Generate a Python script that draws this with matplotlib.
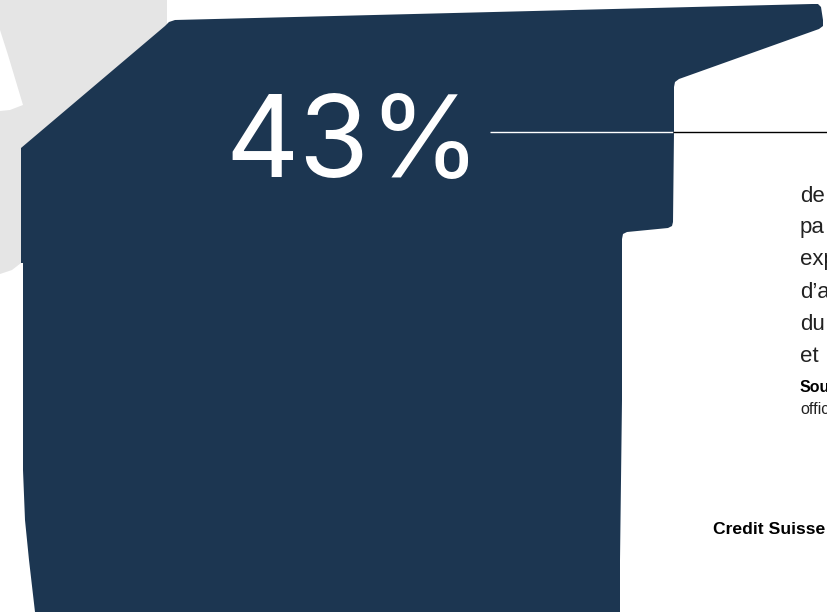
import matplotlib
matplotlib.use("Agg")
import matplotlib.pyplot as plt
from matplotlib.patches import Polygon

NAVY = "#1c3651"
GREY = "#e5e5e5"

# outline of the dark region
region_x = [21, 165, 169, 175, 812, 818, 821, 823, 823, 819, 679, 675, 674, 674, 673, 672, 668,
            627, 623, 622, 622, 620, 620, 35, 29, 25, 23, 23, 21]
region_y = [148, 26, 22, 20, 4, 4, 7, 20, 26, 29, 79, 82, 87, 132, 222, 226, 228,
            232, 234, 239, 400, 560, 612, 612, 560, 520, 470, 263, 263]

# outline of the pale neighbouring region, running under the dark one
neighbour_x = [0, 167, 167, 60, 60, 21, 12, 0, 0, 10, 23, 8, 0]
neighbour_y = [0, 0, 30, 150, 255, 263, 270, 274, 111, 110, 105, 55, 30]

share_label = "43%"
body_lines = ["de", "pa", "exp", "d’a", "du", "et"]
body_y = [196, 228, 260, 292, 324, 356]
source_bold = "Sou"
source_rest = "offic"
credit = "Credit Suisse"

fig = plt.figure(figsize=(8.27, 6.12), dpi=100)
ax = fig.add_axes([0, 0, 1, 1])
ax.set_xlim(0, 827)
ax.set_ylim(612, 0)
ax.axis("off")

ax.add_patch(Polygon(list(zip(neighbour_x, neighbour_y)), closed=True, fc=GREY, ec="none"))
ax.add_patch(Polygon(list(zip(region_x, region_y)), closed=True, fc=NAVY, ec="none"))

# leader line changes colour where it leaves the dark region
ax.plot([490, 673], [132, 132], color="white", lw=1.0, solid_capstyle="butt")
ax.plot([673, 827], [132, 132], color="black", lw=1.0, solid_capstyle="butt")

ax.text(225, 177, share_label, color="white", fontsize=82, family="Inter",
        ha="left", va="baseline")

for line, y in zip(body_lines, body_y):
    ax.text(800, y, line, color="#222222", fontsize=16, family="Liberation Sans", ha="left", va="center")

ax.text(800, 388, source_bold, color="black", fontsize=11.5, family="Liberation Sans", weight="bold",
        ha="left", va="center")
ax.text(800, 409, source_rest, color="#222222", fontsize=11.5, family="Liberation Sans", ha="left", va="center")
ax.text(713, 529, credit, color="black", fontsize=12.6, family="Liberation Sans", weight="bold",
        ha="left", va="center")

fig.savefig("out.png", dpi=100)
